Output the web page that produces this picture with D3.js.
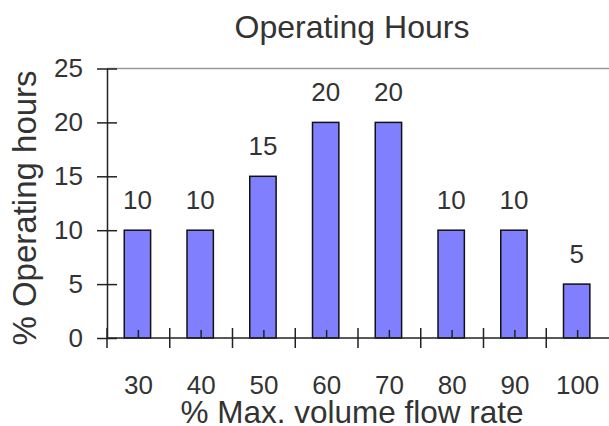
<!DOCTYPE html>
<html>
<head>
<meta charset="utf-8">
<script src="https://cdn.jsdelivr.net/npm/d3@7"></script>
<style>
  body { margin: 0; background: #fff; }
  text { font-family: "Liberation Sans", Arial, sans-serif; fill: #333; }
</style>
</head>
<body>
<script>
// data
let categories = ["30", "40", "50", "60", "70", "80", "90", "100"];
let hours = [10, 10, 15, 20, 20, 10, 10, 5];
let yTicks = [0, 5, 10, 15, 20, 25];

let width = 609;
let height = 426;

let svg = d3.select("body").append("svg")
    .attr("width", width)
    .attr("height", height);

let data = categories.map((c, i) => ({ cat: c, value: hours[i] }));

// plot area
let plotLeft = 107, plotRight = 609, plotTop = 68.5, plotBottom = 338;

let x = d3.scaleBand()
    .domain(categories)
    .range([plotLeft, plotRight])
    .padding(0);

let y = d3.scaleLinear()
    .domain([0, 25])
    .range([plotBottom, plotTop]);

let bw = x.bandwidth();

// light grey line at the top of the plot
svg.append("line")
    .attr("x1", plotLeft).attr("x2", plotRight)
    .attr("y1", y(25)).attr("y2", y(25))
    .attr("stroke", "#9a9a9a")
    .attr("stroke-width", 1.5);

// bars
svg.append("g").selectAll("rect")
    .data(data)
    .join("rect")
    .attr("x", d => x(d.cat) + bw * 0.275)
    .attr("width", bw * 0.42)
    .attr("y", d => y(d.value))
    .attr("height", d => y(0) - y(d.value))
    .attr("fill", "#8080ff")
    .attr("stroke", "#111")
    .attr("stroke-width", 1.5);

// value labels
svg.append("g").selectAll("text")
    .data(data)
    .join("text")
    .attr("x", d => x(d.cat) + bw * 0.485)
    .attr("y", d => y(d.value) - 21)
    .attr("text-anchor", "middle")
    .attr("font-size", 26)
    .text(d => d.value);

// y axis, ticks cross the line
let yAxisGroup = svg.append("g").attr("transform", "translate(" + plotLeft + ",0)");
let yAxis = d3.axisLeft(y).tickValues(yTicks).tickSize(10).tickSizeOuter(0).tickPadding(14);
yAxis(yAxisGroup);
yAxisGroup.attr("font-family", null).attr("font-size", null);
yAxisGroup.select(".domain").attr("stroke", "#222").attr("stroke-width", 1.5);
yAxisGroup.selectAll(".tick line").attr("x1", 10).attr("stroke", "#222").attr("stroke-width", 1.5);
yAxisGroup.selectAll(".tick text").attr("font-size", 26).attr("fill", null);

// x axis: labels in band centres
let xAxisGroup = svg.append("g").attr("transform", "translate(0," + plotBottom + ")");
let xAxis = d3.axisBottom(x).tickSize(0).tickSizeOuter(0);
xAxis(xAxisGroup);
xAxisGroup.attr("font-family", null).attr("font-size", null);
xAxisGroup.select(".domain").remove();
xAxisGroup.selectAll(".tick text")
    .attr("y", 56).attr("dy", null)
    .attr("font-size", 26).attr("fill", null);

xAxisGroup.append("line")
    .attr("x1", plotLeft).attr("x2", plotRight)
    .attr("stroke", "#222").attr("stroke-width", 1.5);

// major ticks on band edges, crossing the axis
xAxisGroup.selectAll(".major")
    .data(categories)
    .join("line")
    .attr("class", "major")
    .attr("x1", d => x(d)).attr("x2", d => x(d))
    .attr("y1", -10).attr("y2", 10)
    .attr("stroke", "#222").attr("stroke-width", 1.5);

// minor ticks in band centres, pointing up
xAxisGroup.selectAll(".minor")
    .data(categories)
    .join("line")
    .attr("class", "minor")
    .attr("x1", d => x(d) + bw / 2).attr("x2", d => x(d) + bw / 2)
    .attr("y1", -8).attr("y2", 0)
    .attr("stroke", "#222").attr("stroke-width", 1.5);

// titles
svg.append("text")
    .attr("x", 352).attr("y", 38)
    .attr("text-anchor", "middle")
    .attr("font-size", 32)
    .text("Operating Hours");

svg.append("text")
    .attr("x", 352).attr("y", 423)
    .attr("text-anchor", "middle")
    .attr("font-size", 31.5)
    .text("% Max. volume flow rate");

svg.append("text")
    .attr("transform", "translate(36,208) rotate(-90)")
    .attr("text-anchor", "middle")
    .attr("font-size", 33)
    .text("% Operating hours");
</script>
</body>
</html>
